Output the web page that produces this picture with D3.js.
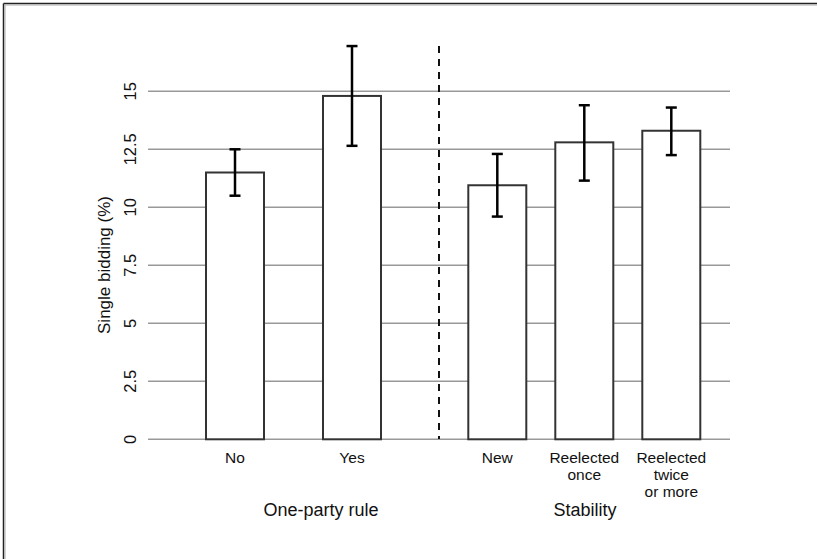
<!DOCTYPE html>
<html><head><meta charset="utf-8">
<script src="https://cdn.jsdelivr.net/npm/d3@7"></script>
<style>body{margin:0;background:#fff}svg{display:block}text{font-family:"Liberation Sans",Arial,sans-serif;fill:#111}</style>
</head><body>
<script>
const leftCategories = ["No", "Yes"];
const leftValues = [11.5, 14.8];
const leftLow = [10.5, 12.65];
const leftHigh = [12.5, 16.95];
const rightCategories = ["New", "Reelected\nonce", "Reelected\ntwice\nor more"];
const rightValues = [10.95, 12.8, 13.3];
const rightLow = [9.6, 11.15, 12.25];
const rightHigh = [12.3, 14.4, 14.3];
const yTicks = [0, 2.5, 5, 7.5, 10, 12.5, 15];
const yTickLabels = ["0", "2.5", "5", "7.5", "10", "12.5", "15"];
const groupLabels = ["One-party rule", "Stability"];
const yLabel = "Single bidding (%)";

const W = 817, H = 559;
const svg = d3.select("body").append("svg").attr("width", W).attr("height", H);

// frame (top & left)
svg.append("line").attr("x1",3.5).attr("x2",W).attr("y1",3.5).attr("y2",3.5).attr("stroke","#222").attr("stroke-width",1.5);
svg.append("line").attr("x1",3.5).attr("x2",3.5).attr("y1",3.5).attr("y2",H).attr("stroke","#222").attr("stroke-width",1.5);
svg.append("line").attr("x1",5).attr("x2",W).attr("y1",5).attr("y2",5).attr("stroke","#aaa").attr("stroke-width",1);
svg.append("line").attr("x1",5).attr("x2",5).attr("y1",5).attr("y2",H).attr("stroke","#aaa").attr("stroke-width",1);

const y = d3.scaleLinear().domain([0, 15]).range([439.3, 91.3]);
const xLeft = d3.scalePoint().domain(leftCategories).range([235, 352]);
const xRight = d3.scalePoint().domain(rightCategories).range([497.3, 671.3]);
const barW = 58;

// gridlines
svg.append("g").selectAll("line").data(yTicks).join("line")
  .attr("x1",148).attr("x2",730).attr("y1",d=>y(d)).attr("y2",d=>y(d))
  .attr("stroke","#999").attr("stroke-width",1.5);

// y axis tick labels (rotated)
svg.append("g").selectAll("text").data(yTicks).join("text")
  .attr("transform",d=>`translate(136,${y(d)}) rotate(-90)`)
  .attr("text-anchor","middle").attr("font-size",16.5)
  .text((d,i)=>yTickLabels[i]);

svg.append("text").attr("transform",`translate(110,265) rotate(-90)`)
  .attr("text-anchor","middle").attr("font-size",17).text(yLabel);

// separator
svg.append("line").attr("x1",439).attr("x2",439).attr("y1",46).attr("y2",439)
  .attr("stroke","#111").attr("stroke-width",2).attr("stroke-dasharray","7,6");

function drawGroup(cats, vals, lo, hi, x) {
  const g = svg.append("g");
  cats.forEach((c,i)=>{
    g.append("rect").attr("x",x(c)-barW/2).attr("width",barW)
      .attr("y",y(vals[i])).attr("height",y(0)-y(vals[i]))
      .attr("fill","#fff").attr("stroke","#333").attr("stroke-width",2);
    const cx = x(c);
    g.append("line").attr("x1",cx).attr("x2",cx).attr("y1",y(hi[i])).attr("y2",y(lo[i])).attr("stroke","#000").attr("stroke-width",2.5);
    [hi[i], lo[i]].forEach(v=>g.append("line").attr("x1",cx-5.5).attr("x2",cx+5.5).attr("y1",y(v)).attr("y2",y(v)).attr("stroke","#000").attr("stroke-width",2.5));
    const t = g.append("text").attr("x",cx).attr("y",462.5).attr("text-anchor","middle").attr("font-size",15.5);
    c.split("\n").forEach((s,j)=>t.append("tspan").attr("x",cx).attr("dy",j?17:0).text(s));
  });
}
drawGroup(leftCategories, leftValues, leftLow, leftHigh, xLeft);
drawGroup(rightCategories, rightValues, rightLow, rightHigh, xRight);

svg.append("text").attr("x",321).attr("y",516).attr("text-anchor","middle").attr("font-size",18).text(groupLabels[0]);
svg.append("text").attr("x",585).attr("y",516).attr("text-anchor","middle").attr("font-size",18).text(groupLabels[1]);
</script>
</body></html>
